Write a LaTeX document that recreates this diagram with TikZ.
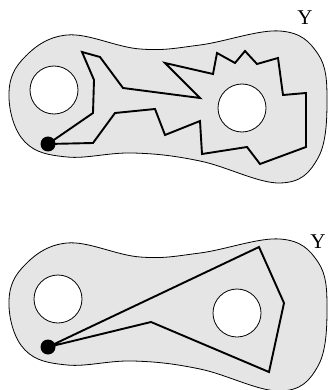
\documentclass[tikz,border=0pt]{standalone}
\usepackage{fontspec}
\setmainfont{Liberation Serif}
\begin{document}
\begin{tikzpicture}[x=1pt,y=-1pt,
  blob/.style={draw=black,line width=0.8pt,fill=black!10},
  hole/.style={circle,draw=black,line width=0.8pt,fill=white,minimum size=48pt,inner sep=0pt},
  basept/.style={circle,fill=black,minimum size=15pt,inner sep=0pt},
  loopline/.style={line width=1.9pt,line join=miter},
  lbl/.style={font=\fontsize{21}{21}\selectfont,inner sep=0pt}]
\useasboundingbox (0,0) rectangle (329,390);
% ---------- top panel ----------
\draw[blob] plot[smooth cycle,tension=0.65] coordinates {(9,98) (22,60) (67,35) (140,49) (200,45) (280,31) (318,54) (327,100) (318,158) (280,183) (200,161) (133,153) (67,157) (25,142)};
\node[hole] (h1) at (54,90) {};
\node[hole] (h2) at (242,108) {};
\node[basept] (p1) at (48,144) {};
\draw[loopline] (p1.center) -- (93,113) -- (94,80) -- (82,52) -- (100,57) -- (123,88) -- (200,98) -- (165,63) -- (213,74) -- (217,53) -- (235,63) -- (245,51) -- (257,64) -- (278,58) -- (283,95) -- (306,93) -- (306,147) -- (260,164) -- (247,147) -- (202,154) -- (200,121) -- (165,135) -- (155,109) -- (115,113) -- (93,143) -- (p1.center);
\node[lbl] (y1) at (305,18) {Y};
% ---------- bottom panel ----------
\begin{scope}[yshift=-208pt]
\draw[blob] plot[smooth cycle,tension=0.65] coordinates {(9,98) (22,60) (67,35) (140,49) (200,45) (280,31) (318,54) (327,100) (318,158) (280,183) (200,161) (133,153) (67,157) (25,142)};
\end{scope}
\node[hole] (h3) at (58,299) {};
\node[hole] (h4) at (237,313) {};
\node[basept] (p2) at (48,347) {};
\draw[loopline] (p2.center) -- (259,247) -- (284,303) -- (269,372) -- (151,322) -- (p2.center);
\node[lbl] (y2) at (318,242) {Y};
\end{tikzpicture}
\end{document}
